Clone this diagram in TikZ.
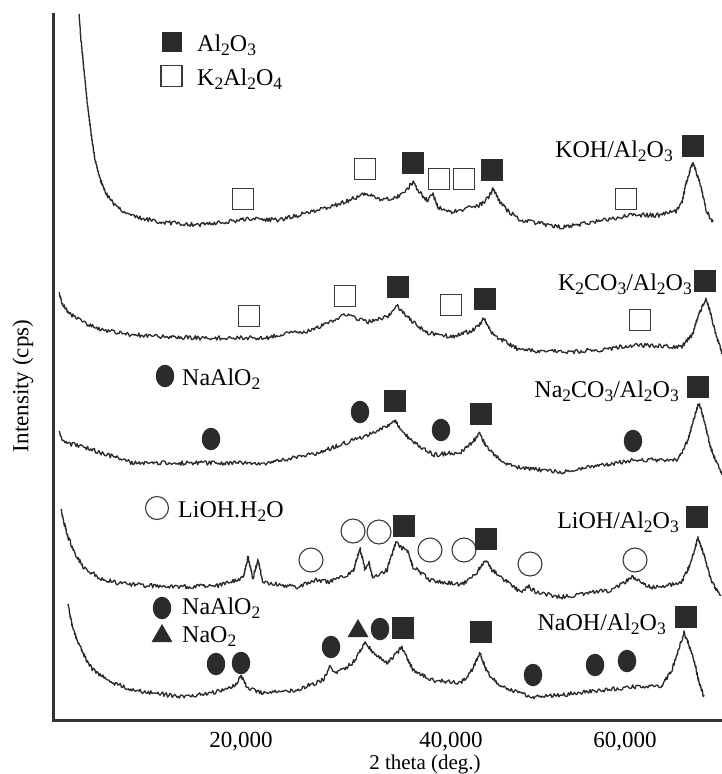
\documentclass[tikz,border=0pt]{standalone}
\usepackage{fontspec}
\setmainfont{Liberation Serif}
\usetikzlibrary{shapes.geometric}
\definecolor{curvecol}{HTML}{2A2A2A}
\definecolor{markcol}{HTML}{2B2B2B}
\definecolor{ocol}{HTML}{3A3A3A}
\definecolor{axcol}{HTML}{333333}
\newcommand{\sbs}[1]{\raisebox{-4pt}{\fontsize{17.5}{17.5}\selectfont #1}}
\newcommand{\lblfont}{\fontsize{24}{28}\selectfont}
\newcommand{\tickfont}{\fontsize{23}{27}\selectfont}
% build a noisy polyline through control points: #1 macro, #2 x0, #3 y0, #4 list x/y
\newcommand{\buildnoisy}[4]{%
  \gdef\nzlist{}%
  \foreach \xa/\ya [remember=\xa as \xp (initially #2), remember=\ya as \yp (initially #3)] in {#4} {%
    \pgfmathtruncatemacro\nn{max(1,round(veclen(\xa-\xp,\ya-\yp)/1.2))}%
    \foreach \k in {1,...,\nn} {%
      \pgfmathsetmacro\xx{\xp+(\xa-\xp)*\k/\nn}%
      \pgfmathsetmacro\yy{\yp+(\ya-\yp)*\k/\nn+2.2*rand}%
      \xdef\nzlist{\nzlist -- (\xx,\yy)}%
    }%
  }%
  \global\let#1\nzlist
}
\begin{document}
\begin{tikzpicture}[x=1pt,y=-1pt,
  curve/.style={draw=curvecol, line width=1.3pt, line join=round},
  fsq/.style={rectangle, fill=markcol, minimum size=21.5pt, inner sep=0pt},
  osq/.style={rectangle, draw=ocol, line width=1.3pt, fill=white, minimum size=20.5pt, inner sep=0pt},
  fel/.style={ellipse, fill=markcol, minimum width=18.5pt, minimum height=22.5pt, inner sep=0pt},
  ocirc/.style={circle, draw=ocol, line width=1.1pt, fill=white, minimum size=24pt, inner sep=0pt},
  ftri/.style={regular polygon, regular polygon sides=3, fill=markcol, minimum size=24pt, inner sep=0pt},
  lbl/.style={font=\lblfont, inner sep=0pt, anchor=base east, text=black},
  leg/.style={font=\lblfont, inner sep=0pt, anchor=base west, text=black},
  tick/.style={font=\tickfont, inner sep=0pt, anchor=base, text=black},
  axis/.style={draw=axcol, line width=3pt}
]
\pgfmathsetseed{12345}
\useasboundingbox (0,0) rectangle (722,774);

% axes
\coordinate (axtop) at (53.5,13);
\coordinate (axorig) at (53.5,720);
\coordinate (axright) at (722,720);
\draw[axis] (axtop) -- (axorig) -- (axright);

% KOH curve
\buildnoisy{\kohpath}{79}{14}{81/40, 84/70, 87/100, 91/133, 95/160, 99/176, 104/189, 110/200, 120/209, 133/216, 160/222, 200/225, 250/219, 280/220, 330/207, 355/198, 367/193, 380/200, 397/197, 406/190, 413/182, 419/192, 427/200, 433/195, 438/207, 453/212, 480/205, 488/198, 493/189, 500/202, 507/210, 520/220, 561/227, 600/221, 628/215, 660/215, 676/211, 682/203, 686/183, 693/162, 701/187, 706/210, 713/223}
\coordinate (koh0) at (79,14);
\draw[curve] (koh0) \kohpath;

% K2CO3 curve
\buildnoisy{\kcopath}{59}{293}{63/305, 70/314, 83/322, 100/330, 133/335, 200/338, 267/338, 280/335, 313/330, 345/315, 367/322, 387/317, 393/310, 397/305, 402/312, 407/317, 427/333, 453/337, 473/330, 480/324, 484/318, 490/330, 497/337, 520/350, 561/352, 600/350, 634/345, 681/347, 692/335, 700/312, 706/298, 711/315, 716/335, 722/353}
\coordinate (kco0) at (59,293);
\draw[curve] (kco0) \kcopath;

% Na2CO3 curve
\buildnoisy{\ncopath}{59}{432}{63/440, 70/444, 83/447, 133/463, 200/463, 267/463, 317/453, 360/438, 380/430, 390/424, 394/420, 400/428, 410/440, 434/455, 461/452, 472/443, 479/433, 486/446, 500/460, 514/467, 561/472, 634/460, 678/460, 688/440, 694/418, 699/403, 704/420, 710/445, 716/462, 722/473}
\coordinate (nco0) at (59,432);
\draw[curve] (nco0) \ncopath;

% LiOH curve
\buildnoisy{\liohpath}{61}{509}{64/523, 68/537, 75/553, 83/567, 100/578, 117/583, 167/587, 217/586, 243/578, 248/557, 253/578, 258/560, 263/582, 297/587, 315/580, 330/582, 353/572, 360/548, 365/570, 369/563, 373/578, 387/570, 396/542, 402/548, 407/550, 413/567, 430/580, 461/585, 475/575, 485/560, 492/570, 504/580, 520/592, 529/587, 538/593, 561/597, 611/590, 633/577, 651/588, 681/583, 690/565, 698/538, 704/555, 711/580, 721/597}
\coordinate (lioh0) at (61,509);
\draw[curve] (lioh0) \liohpath;

% NaOH curve
\buildnoisy{\naohpath}{68}{605}{72/625, 77/640, 85/657, 93/670, 110/682, 133/690, 183/697, 227/690, 236/684, 241/675, 246/686, 253/690, 263/693, 297/690, 323/680, 330/667, 337/673, 353/663, 365/643, 373/652, 387/663, 397/653, 402/647, 413/670, 430/680, 461/683, 472/670, 480/653, 487/672, 501/687, 534/697, 578/693, 628/687, 661/687, 672/670, 679/648, 684/633, 689/645, 694/660, 699/682, 704/697}
\coordinate (naoh0) at (68,605);
\draw[curve] (naoh0) \naohpath;

% legend top
\node[fsq, minimum size=20pt] (lgA) at (172,42) {};
\node[leg] (lgAt) at (197,51) {Al\sbs{2}O\sbs{3}};
\node[osq, minimum size=21pt] (lgK) at (171.5,76) {};
\node[leg] (lgKt) at (197,85) {K\sbs{2}Al\sbs{2}O\sbs{4}};

% KOH markers
\node[osq] (k1) at (243,199) {};
\node[osq] (k2) at (365,169) {};
\node[fsq] (k3) at (413,163) {};
\node[osq] (k4) at (439,179) {};
\node[osq] (k5) at (464,179) {};
\node[fsq] (k6) at (492,170) {};
\node[osq] (k7) at (626,199) {};
\node[fsq] (k8) at (693,146) {};
\node[lbl] (kohl) at (673,157) {KOH/Al\sbs{2}O\sbs{3}};

% K2CO3 markers
\node[osq] (c1) at (249,316) {};
\node[osq] (c2) at (345,296) {};
\node[fsq] (c3) at (398,287) {};
\node[osq] (c4) at (451,305) {};
\node[fsq] (c5) at (485,299) {};
\node[osq] (c6) at (640,320) {};
\node[fsq] (c7) at (705,281) {};
\node[lbl] (kcol) at (692,290) {K\sbs{2}CO\sbs{3}/Al\sbs{2}O\sbs{3}};

% Na2CO3 markers
\node[fel] (lgN1) at (165,376) {};
\node[leg] (lgN1t) at (182,385) {NaAlO\sbs{2}};
\node[fel] (n1) at (211,439) {};
\node[fel] (n2) at (360,412) {};
\node[fsq] (n3) at (395,401) {};
\node[fel] (n4) at (441,430) {};
\node[fsq] (n5) at (481,414) {};
\node[fel] (n6) at (633,441) {};
\node[fsq] (n7) at (698,387) {};
\node[lbl] (ncol) at (679,397) {Na\sbs{2}CO\sbs{3}/Al\sbs{2}O\sbs{3}};

% LiOH markers
\node[ocirc, minimum size=23pt] (lgL) at (157,508) {};
\node[leg] (lgLt) at (178,517) {LiOH.H\sbs{2}O};
\node[ocirc] (l1) at (311,560) {};
\node[ocirc] (l2) at (353,531) {};
\node[ocirc] (l3) at (379,532) {};
\node[fsq] (l4) at (404,526) {};
\node[ocirc] (l5) at (430,550) {};
\node[ocirc] (l6) at (464,550) {};
\node[fsq] (l7) at (486,539) {};
\node[ocirc] (l8) at (530,564) {};
\node[ocirc] (l9) at (635,560) {};
\node[fsq] (l10) at (697,517) {};
\node[lbl] (liohl) at (679,528) {LiOH/Al\sbs{2}O\sbs{3}};

% NaOH markers
\node[fel] (lgN2) at (162,608) {};
\node[leg] (lgN2t) at (182,614) {NaAlO\sbs{2}};
\node[ftri] (lgT) at (162,636) {};
\node[leg] (lgTt) at (182,642) {NaO\sbs{2}};
\node[fel] (h1) at (216,664) {};
\node[fel] (h2) at (241,663) {};
\node[fel] (h3) at (331,647) {};
\node[ftri] (h4) at (358,631) {};
\node[fel] (h5) at (380,629) {};
\node[fsq] (h6) at (403,628) {};
\node[fsq] (h7) at (481,632) {};
\node[fel] (h8) at (533,675) {};
\node[fel] (h9) at (595,665) {};
\node[fel] (h10) at (627,661) {};
\node[fsq] (h11) at (686,617) {};
\node[lbl] (naohl) at (666,630) {NaOH/Al\sbs{2}O\sbs{3}};

% axis labels
\node[tick] (t20) at (241,747) {20,000};
\node[tick] (t40) at (451,747) {40,000};
\node[tick] (t60) at (625,747) {60,000};
\node[font=\fontsize{21}{25}\selectfont, inner sep=0pt, anchor=base] (xlab) at (425,769) {2 theta (deg.)};
\node[font=\fontsize{23}{27}\selectfont, inner sep=0pt, rotate=90, anchor=center] (ylab) at (23,386) {Intensity (cps)};
\end{tikzpicture}
\end{document}
